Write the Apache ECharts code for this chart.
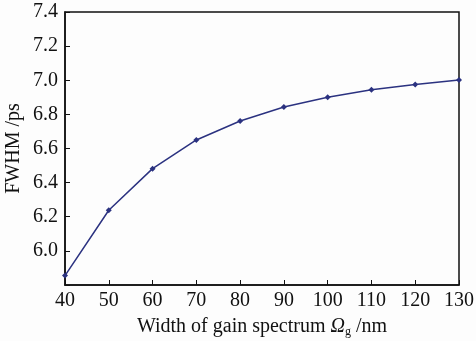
<!DOCTYPE html>
<html>
<head>
<meta charset="utf-8">
<script src="https://cdn.jsdelivr.net/npm/echarts@6/dist/echarts.min.js"></script>
<style>
  html, body { margin: 0; padding: 0; background: #fdfdfd; }
  #chart { width: 476px; height: 341px; }
</style>
</head>
<body>
<div id="chart"></div>
<script>
const gainWidth = [40, 50, 60, 70, 80, 90, 100, 110, 120, 130];
const fwhm = [5.855, 6.238, 6.482, 6.650, 6.761, 6.843, 6.900, 6.944, 6.975, 7.002];

const font = '"Liberation Serif", "DejaVu Serif", serif';

const chart = echarts.init(document.getElementById('chart'));

chart.setOption({
  backgroundColor: '#fdfdfd',
  animation: false,
  grid: {
    left: 65, right: 17, top: 12, bottom: 56,
    outerBoundsMode: 'none',
    show: true, borderColor: '#111', borderWidth: 1.5
  },
  xAxis: {
    type: 'value',
    min: 40, max: 130, interval: 10,
    name: 'Width of gain spectrum {i|Ω}{s|g} /nm',
    nameLocation: 'middle',
    nameGap: 25,
    nameTextStyle: {
      fontFamily: font, fontSize: 20, color: '#111', lineHeight: 22,
      rich: {
        i: { fontFamily: font, fontStyle: 'italic', fontSize: 20, color: '#111', lineHeight: 22 },
        s: { fontFamily: font, fontSize: 12, color: '#111', verticalAlign: 'bottom', lineHeight: 12 }
      }
    },
    axisLine: { lineStyle: { color: '#111', width: 1.5 } },
    axisTick: { inside: true, length: 5, lineStyle: { color: '#111' } },
    axisLabel: { fontFamily: font, fontSize: 20, color: '#111', margin: 6 },
    splitLine: { show: false }
  },
  yAxis: {
    type: 'value',
    min: 5.8, max: 7.4, interval: 0.2,
    name: 'FWHM /ps',
    nameLocation: 'middle',
    nameGap: 41,
    nameMoveOverlap: false,
    nameTextStyle: { fontFamily: font, fontSize: 20, color: '#111' },
    axisLine: { show: true, lineStyle: { color: '#111', width: 1.5 } },
    axisTick: { inside: true, length: 5, lineStyle: { color: '#111' } },
    axisLabel: {
      fontFamily: font, fontSize: 20, color: '#111', margin: 7,
      formatter: v => (Math.abs(v - 5.8) < 1e-6 ? '' : v.toFixed(1))
    },
    splitLine: { show: false }
  },
  series: [{
    type: 'line',
    data: gainWidth.map((x, i) => [x, fwhm[i]]),
    symbol: 'diamond',
    symbolSize: 6,
    lineStyle: { color: '#2b3280', width: 1.5 },
    itemStyle: { color: '#2b3280' }
  }]
});
</script>
</body>
</html>
